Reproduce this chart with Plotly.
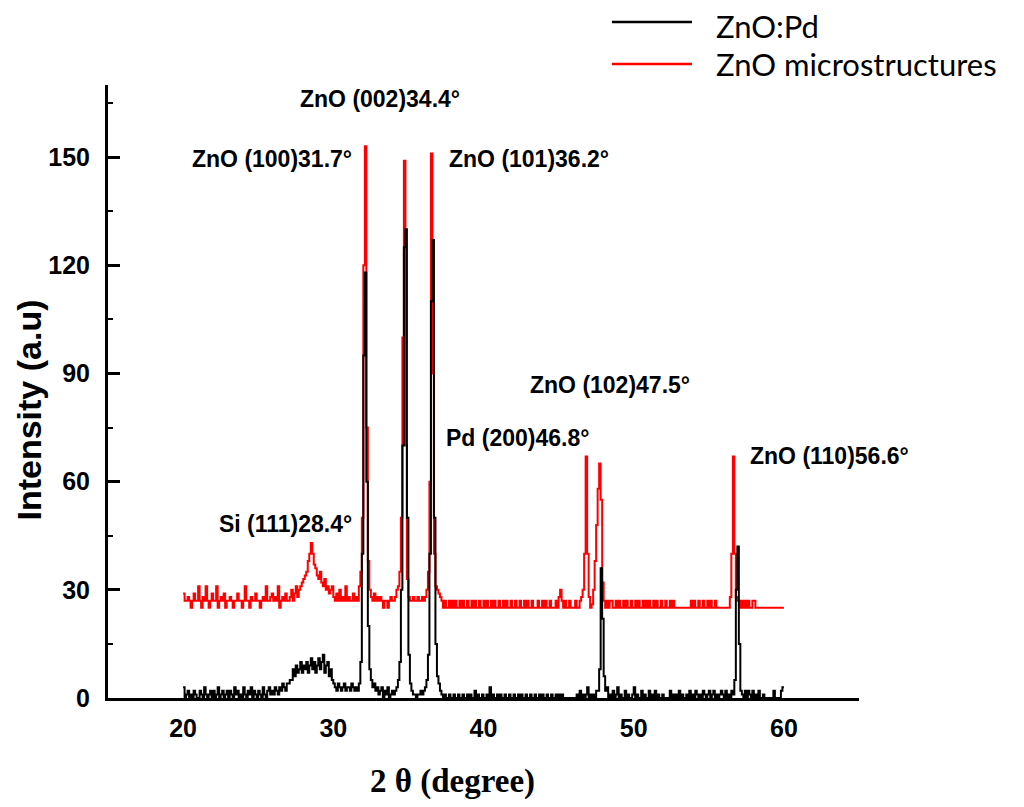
import plotly.graph_objects as go

# ---- scan definition (2-theta, degrees) ----
two_theta_start = 20.0
two_theta_step = 0.1

# ---- ZnO microstructures (red) intensity, one row per degree 20..60 ----
red_20 = [29, 27, 27, 28, 27, 25, 27, 29, 27, 27]
red_21 = [31, 27, 25, 28, 27, 31, 27, 25, 27, 29]
red_22 = [27, 27, 31, 25, 27, 28, 27, 29, 25, 27]
red_23 = [27, 28, 27, 25, 27, 27, 29, 27, 27, 25]
red_24 = [27, 31, 27, 27, 25, 28, 27, 27, 29, 27]
red_25 = [27, 25, 27, 28, 27, 31, 27, 27, 28, 29]
red_26 = [27, 28, 27, 31, 25, 27, 28, 27, 29, 27]
red_27 = [27, 28, 30, 27, 29, 31, 28, 30, 31, 32]
red_28 = [33, 34, 35, 38, 40, 43, 40, 37, 36, 34]
red_29 = [33, 35, 32, 31, 33, 30, 31, 29, 30, 31]
red_30 = [28, 27, 29, 27, 30, 27, 28, 27, 31, 27]
red_31 = [28, 27, 27, 29, 27, 28, 27, 31, 35, 50]
red_32 = [120, 153, 75, 38, 30, 28, 27, 29, 27, 28]
red_33 = [27, 28, 27, 25, 27, 27, 25, 27, 28, 27]
red_34 = [27, 28, 30, 31, 35, 50, 100, 149, 70, 33]
red_35 = [28, 27, 27, 28, 27, 27, 28, 27, 27, 28]
red_36 = [27, 28, 30, 35, 60, 151, 90, 40, 31, 30]
red_37 = [29, 28, 27, 25, 27, 25, 25, 27, 25, 27]
red_38 = [25, 27, 25, 25, 27, 25, 27, 25, 25, 27]
red_39 = [25, 25, 27, 25, 27, 25, 25, 27, 25, 25]
red_40 = [27, 25, 27, 25, 25, 27, 25, 27, 25, 25]
red_41 = [27, 25, 25, 27, 25, 27, 25, 25, 27, 25]
red_42 = [25, 27, 25, 25, 27, 25, 25, 27, 25, 27]
red_43 = [25, 25, 27, 25, 25, 25, 27, 25, 25, 27]
red_44 = [25, 27, 25, 25, 27, 25, 25, 25, 27, 25]
red_45 = [28, 30, 27, 25, 27, 25, 25, 27, 25, 25]
red_46 = [25, 27, 25, 25, 27, 28, 30, 40, 67, 40]
red_47 = [28, 25, 26, 30, 38, 48, 58, 65, 55, 32]
red_48 = [27, 25, 27, 25, 27, 27, 25, 25, 27, 25]
red_49 = [27, 25, 25, 27, 25, 27, 25, 25, 27, 25]
red_50 = [25, 27, 25, 27, 25, 25, 27, 25, 27, 25]
red_51 = [27, 25, 25, 27, 25, 27, 25, 25, 27, 25]
red_52 = [25, 27, 25, 25, 27, 25, 27, 25, 25, 25]
red_53 = [25, 25, 25, 25, 25, 25, 25, 25, 27, 25]
red_54 = [27, 25, 25, 27, 25, 25, 27, 25, 25, 27]
red_55 = [25, 27, 25, 25, 27, 25, 25, 25, 25, 25]
red_56 = [25, 25, 25, 25, 28, 40, 67, 40, 28, 27]
red_57 = [27, 25, 27, 25, 27, 25, 27, 25, 25, 27]
red_58 = [27, 25, 25, 25, 25, 25, 25, 25, 25, 25]
red_59 = [25, 25, 25, 25, 25, 25, 25, 25, 25, 25]
red_60 = [25]

# ---- ZnO:Pd (black) intensity, one row per degree 20..60 ----
blk_20 = [3, 0, 1, 2, 0, 1, 0, 2, 1, 0]
blk_21 = [0, 2, 1, 0, 3, 1, 0, 1, 2, 0]
blk_22 = [2, 0, 1, 3, 0, 1, 2, 0, 1, 2]
blk_23 = [0, 2, 1, 0, 3, 1, 2, 0, 1, 0]
blk_24 = [3, 1, 0, 2, 1, 3, 0, 2, 1, 0]
blk_25 = [2, 1, 0, 3, 1, 0, 2, 3, 1, 2]
blk_26 = [1, 3, 2, 1, 3, 2, 4, 3, 2, 4]
blk_27 = [4, 5, 5, 8, 6, 9, 7, 8, 10, 7]
blk_28 = [9, 8, 10, 7, 9, 11, 8, 10, 7, 9]
blk_29 = [11, 8, 10, 12, 7, 9, 10, 6, 8, 5]
blk_30 = [4, 3, 2, 4, 3, 2, 3, 4, 2, 3]
blk_31 = [3, 2, 4, 3, 2, 3, 2, 4, 10, 40]
blk_32 = [95, 118, 60, 20, 8, 5, 3, 4, 2, 3]
blk_33 = [1, 2, 3, 0, 2, 1, 3, 0, 1, 2]
blk_34 = [1, 2, 3, 5, 10, 30, 70, 125, 130, 50]
blk_35 = [12, 4, 2, 1, 1, 0, 1, 1, 2, 1]
blk_36 = [2, 3, 5, 12, 40, 110, 127, 50, 15, 6]
blk_37 = [4, 2, 1, 0, 1, 0, 0, 1, 0, 0]
blk_38 = [1, 0, 0, 1, 0, 0, 1, 0, 0, 1]
blk_39 = [0, 1, 0, 0, 2, 0, 1, 0, 0, 1]
blk_40 = [0, 0, 1, 0, 3, 0, 1, 0, 0, 1]
blk_41 = [0, 1, 0, 0, 1, 0, 0, 1, 0, 0]
blk_42 = [1, 0, 0, 1, 0, 1, 0, 0, 1, 0]
blk_43 = [0, 1, 0, 0, 1, 0, 0, 1, 0, 1]
blk_44 = [0, 0, 1, 0, 0, 1, 0, 0, 1, 0]
blk_45 = [1, 0, 1, 0, 0, 0, 0, 0, 0, 0]
blk_46 = [0, 0, 1, 0, 2, 0, 1, 0, 1, 3]
blk_47 = [0, 1, 0, 1, 0, 2, 2, 8, 36, 22]
blk_48 = [6, 2, 3, 0, 1, 0, 2, 0, 1, 3]
blk_49 = [0, 1, 0, 0, 2, 0, 1, 0, 0, 1]
blk_50 = [3, 0, 1, 0, 0, 2, 0, 1, 0, 0]
blk_51 = [2, 0, 1, 0, 2, 0, 1, 0, 0, 1]
blk_52 = [0, 0, 0, 0, 2, 0, 1, 0, 1, 0]
blk_53 = [2, 0, 1, 0, 0, 1, 0, 2, 0, 1]
blk_54 = [0, 2, 1, 0, 1, 0, 2, 1, 0, 1]
blk_55 = [2, 0, 1, 2, 0, 1, 0, 1, 2, 1]
blk_56 = [0, 2, 0, 1, 0, 2, 1, 5, 30, 42]
blk_57 = [15, 2, 1, 0, 2, 0, 2, 1, 0, 2]
blk_58 = [0, 1, 0, 2, 0, 0, 1, 0, 0, 0]
blk_59 = [0, 0, 0, 2, 0, 0, 0, 0, 2, 3]
blk_60 = [3]

# ---- labels ----
series_names = ["ZnO:Pd", "ZnO microstructures"]
y_ticks = [0, 30, 60, 90, 120, 150]
x_ticks = [20, 30, 40, 50, 60]
peak_labels = ["ZnO (002)34.4°", "ZnO (100)31.7°", "ZnO (101)36.2°", "Si (111)28.4°",
               "ZnO (102)47.5°", "Pd (200)46.8°", "ZnO (110)56.6°"]
peak_label_x = [33.1, 31.36, 37.54, 26.8, 48.44, 42.26, 63.06]
peak_label_y = [166, 149.4, 149.4, 48.2, 86.9, 72.2, 67.2]
peak_label_anchor = ["center", "right", "left", "center", "center", "center", "center"]

red_rows = [red_20, red_21, red_22, red_23, red_24, red_25, red_26, red_27, red_28, red_29,
            red_30, red_31, red_32, red_33, red_34, red_35, red_36, red_37, red_38, red_39,
            red_40, red_41, red_42, red_43, red_44, red_45, red_46, red_47, red_48, red_49,
            red_50, red_51, red_52, red_53, red_54, red_55, red_56, red_57, red_58, red_59, red_60]
blk_rows = [blk_20, blk_21, blk_22, blk_23, blk_24, blk_25, blk_26, blk_27, blk_28, blk_29,
            blk_30, blk_31, blk_32, blk_33, blk_34, blk_35, blk_36, blk_37, blk_38, blk_39,
            blk_40, blk_41, blk_42, blk_43, blk_44, blk_45, blk_46, blk_47, blk_48, blk_49,
            blk_50, blk_51, blk_52, blk_53, blk_54, blk_55, blk_56, blk_57, blk_58, blk_59, blk_60]

red_y = [v for row in red_rows for v in row]
blk_y = [v for row in blk_rows for v in row]
two_theta = [round(two_theta_start + i * two_theta_step, 2) for i in range(len(red_y))]

fig = go.Figure()
fig.add_trace(go.Scatter(x=two_theta, y=red_y, mode="lines", name=series_names[1],
                         line=dict(color="#ff0000", width=2, shape="hv"), showlegend=False))
fig.add_trace(go.Scatter(x=two_theta, y=blk_y, mode="lines", name=series_names[0],
                         line=dict(color="#000000", width=2, shape="hv"), showlegend=False))

tick_font = dict(family="Liberation Sans, Arial", size=25, color="black", weight="bold")
fig.update_xaxes(range=[15, 65], tickvals=x_ticks, ticks="", showgrid=False, zeroline=False,
                 showline=True, linecolor="black", linewidth=3, tickfont=tick_font,
                 ticklabelstandoff=6)
fig.update_yaxes(range=[0, 170], tickvals=y_ticks, ticks="inside", ticklen=12, tickwidth=3,
                 tickcolor="black", showgrid=False, zeroline=False, showline=True,
                 linecolor="black", linewidth=3, tickfont=tick_font, ticklabelstandoff=10,
                 minor=dict(dtick=15, ticks="inside", ticklen=5, tickwidth=2, tickcolor="black"))

ann_font = dict(family="Liberation Sans, Arial", size=23, color="black", weight="bold")
for txt, px, py, anc in zip(peak_labels, peak_label_x, peak_label_y, peak_label_anchor):
    fig.add_annotation(x=px, y=py, xref="x", yref="y", text=txt, showarrow=False,
                       xanchor=anc, yanchor="middle", font=ann_font)

# axis titles
fig.add_annotation(x=-0.1065, y=0.469, xref="paper", yref="paper", text="Intensity (a.u)",
                   textangle=-90, showarrow=False, xanchor="center", yanchor="middle",
                   borderpad=0,
                   font=dict(family="Liberation Sans, Arial", size=34, color="black", weight="bold"))
fig.add_annotation(x=0.4587, y=-0.137, xref="paper", yref="paper", text="2 θ (degree)",
                   showarrow=False, xanchor="center", yanchor="middle",
                   font=dict(family="Liberation Serif, Times New Roman", size=33, color="black",
                             weight="bold"))

# legend (drawn manually to match long sample lines)
leg_colors = ["#000000", "#ff0000"]
leg_line_y = [1.1028, 1.0343]
leg_text_y = [1.0962, 1.0343]
for name, col, ly, ty in zip(series_names, leg_colors, leg_line_y, leg_text_y):
    fig.add_shape(type="line", xref="paper", yref="paper", x0=0.671, x1=0.7776, y0=ly, y1=ly,
                  line=dict(color=col, width=2.5))
    fig.add_annotation(x=0.8083, y=ty, xref="paper", yref="paper", text=name, showarrow=False,
                       xanchor="left", yanchor="middle", borderpad=0,
                       font=dict(family="Lato, Open Sans", size=31, color="black"))

# page body adds an 8px offset, so margins are reduced by 8px on the left/top
fig.update_layout(width=1024, height=807, plot_bgcolor="white", paper_bgcolor="white",
                  margin=dict(l=100, r=173, t=77, b=117), showlegend=False)

fig.write_html("out.html")
